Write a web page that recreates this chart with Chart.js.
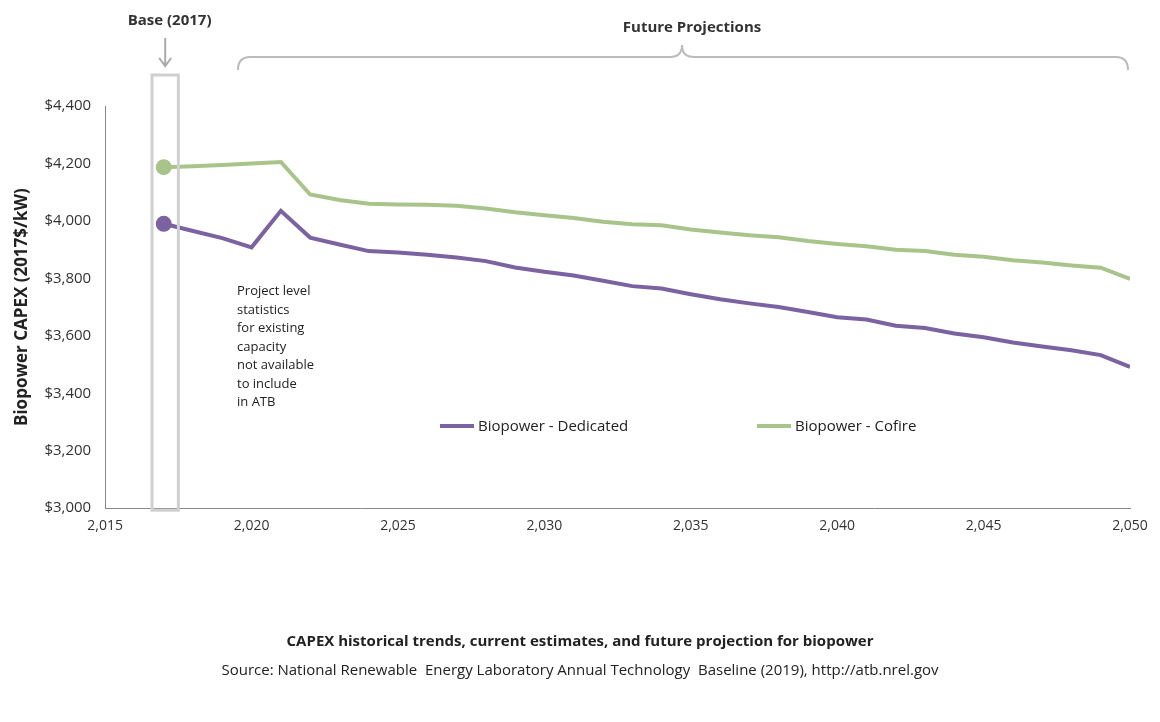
<!DOCTYPE html>
<html><head><meta charset="utf-8">
<script src="https://cdn.jsdelivr.net/npm/chart.js@4/dist/chart.umd.min.js"></script>
<style>body{margin:0;background:#fff}</style>
</head><body><canvas id="c" width="1160" height="722"></canvas>
<script>
const years=[2017,2018,2019,2020,2021,2022,2023,2024,2025,2026,2027,2028,2029,2030,2031,2032,2033,2034,2035,2036,2037,2038,2039,2040,2041,2042,2043,2044,2045,2046,2047,2048,2049,2050];
const dedicated=[3990,3965,3940,3908,4035,3942,3918,3895,3890,3882,3873,3860,3838,3823,3810,3792,3773,3765,3745,3727,3713,3700,3683,3665,3657,3635,3627,3608,3595,3577,3563,3550,3533,3492];
const cofire=[4187,4190,4195,4200,4205,4092,4073,4060,4057,4056,4053,4043,4030,4020,4010,3997,3988,3985,3970,3960,3950,3943,3930,3920,3912,3900,3895,3882,3875,3863,3855,3845,3837,3798];
const seriesNames=['Biopower - Dedicated','Biopower - Cofire'];
const colors=['#7b62a0','#a9c48a'];
const F='"Open Sans", Calibri, sans-serif';
const toPts=a=>a.map((v,i)=>({x:years[i],y:v}));
const ann={id:'ann',afterDraw(ch){
 const c=ch.ctx,x=ch.scales.x,y=ch.scales.y;
 c.save();
 const bx0=x.getPixelForValue(2016.6),bx1=x.getPixelForValue(2017.5);
 c.strokeStyle='#d0d0d0';c.lineWidth=3;c.strokeRect(bx0,75,bx1-bx0,y.getPixelForValue(3000)-75+2);
 c.fillStyle='#333';c.font='bold 15px '+F;c.textAlign='center';
 c.fillText('Base (2017)',x.getPixelForValue(2017.2),25);
 c.strokeStyle='#aaa';c.lineWidth=2;const ax=x.getPixelForValue(2017.05);
 c.beginPath();c.moveTo(ax,38);c.lineTo(ax,66);c.moveTo(ax-6,58);c.lineTo(ax,66);c.lineTo(ax+6,58);c.stroke();
 c.fillStyle='#333';c.fillText('Future Projections',692,32);
 const l=238,r=1128,m=682,t=45,b=70;
 c.strokeStyle='#bbb';c.lineWidth=2;c.beginPath();
 c.moveTo(l,b);c.quadraticCurveTo(l,t+12,l+12,t+12);c.lineTo(m-12,t+12);c.quadraticCurveTo(m,t+12,m,t);
 c.quadraticCurveTo(m,t+12,m+12,t+12);c.lineTo(r-12,t+12);c.quadraticCurveTo(r,t+12,r,b);c.stroke();
 c.font='13px '+F;c.textAlign='left';c.fillStyle='#222';
 ['Project level','statistics','for existing','capacity','not available','to include','in ATB'].forEach((s,i)=>c.fillText(s,237,295+i*18.5));
 c.font='15px '+F;
 [[440,seriesNames[0],colors[0]],[757,seriesNames[1],colors[1]]].forEach(([lx,n,col])=>{
  c.strokeStyle=col;c.lineWidth=4;c.beginPath();c.moveTo(lx,426);c.lineTo(lx+34,426);c.stroke();
  c.fillStyle='#222';c.fillText(n,lx+38,431);});
 c.textAlign='center';c.font='bold 15px '+F;c.fillText('CAPEX historical trends, current estimates, and future projection for biopower',580,646);
 c.font='15px '+F;c.fillText('Source: National Renewable  Energy Laboratory Annual Technology  Baseline (2019), http://atb.nrel.gov',580,675);
 c.restore();}};
new Chart(document.getElementById('c'),{type:'line',
 data:{datasets:[0,1].map(i=>({label:seriesNames[i],data:toPts([dedicated,cofire][i]),borderColor:colors[i],backgroundColor:colors[i],borderWidth:4,
  pointRadius:ctx=>ctx.dataIndex===0?6:0,pointHoverRadius:0,tension:0}))},
 options:{responsive:false,animation:false,devicePixelRatio:1,
  layout:{padding:{top:106,right:30,bottom:185,left:8}},
  plugins:{legend:{display:false},tooltip:{enabled:false}},
  scales:{x:{type:'linear',min:2015,max:2050,ticks:{stepSize:5,color:'#333',font:{size:14,family:F}},
    grid:{display:false,drawTicks:true,tickLength:6,color:'#888'},border:{color:'#888'}},
   y:{min:3000,max:4400,ticks:{stepSize:200,color:'#333',font:{size:15,family:F},padding:8,callback:v=>'$'+v.toLocaleString('en-US')},
    grid:{display:false,drawTicks:true,tickLength:6},border:{color:'#888'},
    title:{display:true,text:'Biopower CAPEX (2017$/kW)',font:{size:17,weight:'bold',family:F},color:'#222'}}}},
 plugins:[ann]});
</script></body></html>
